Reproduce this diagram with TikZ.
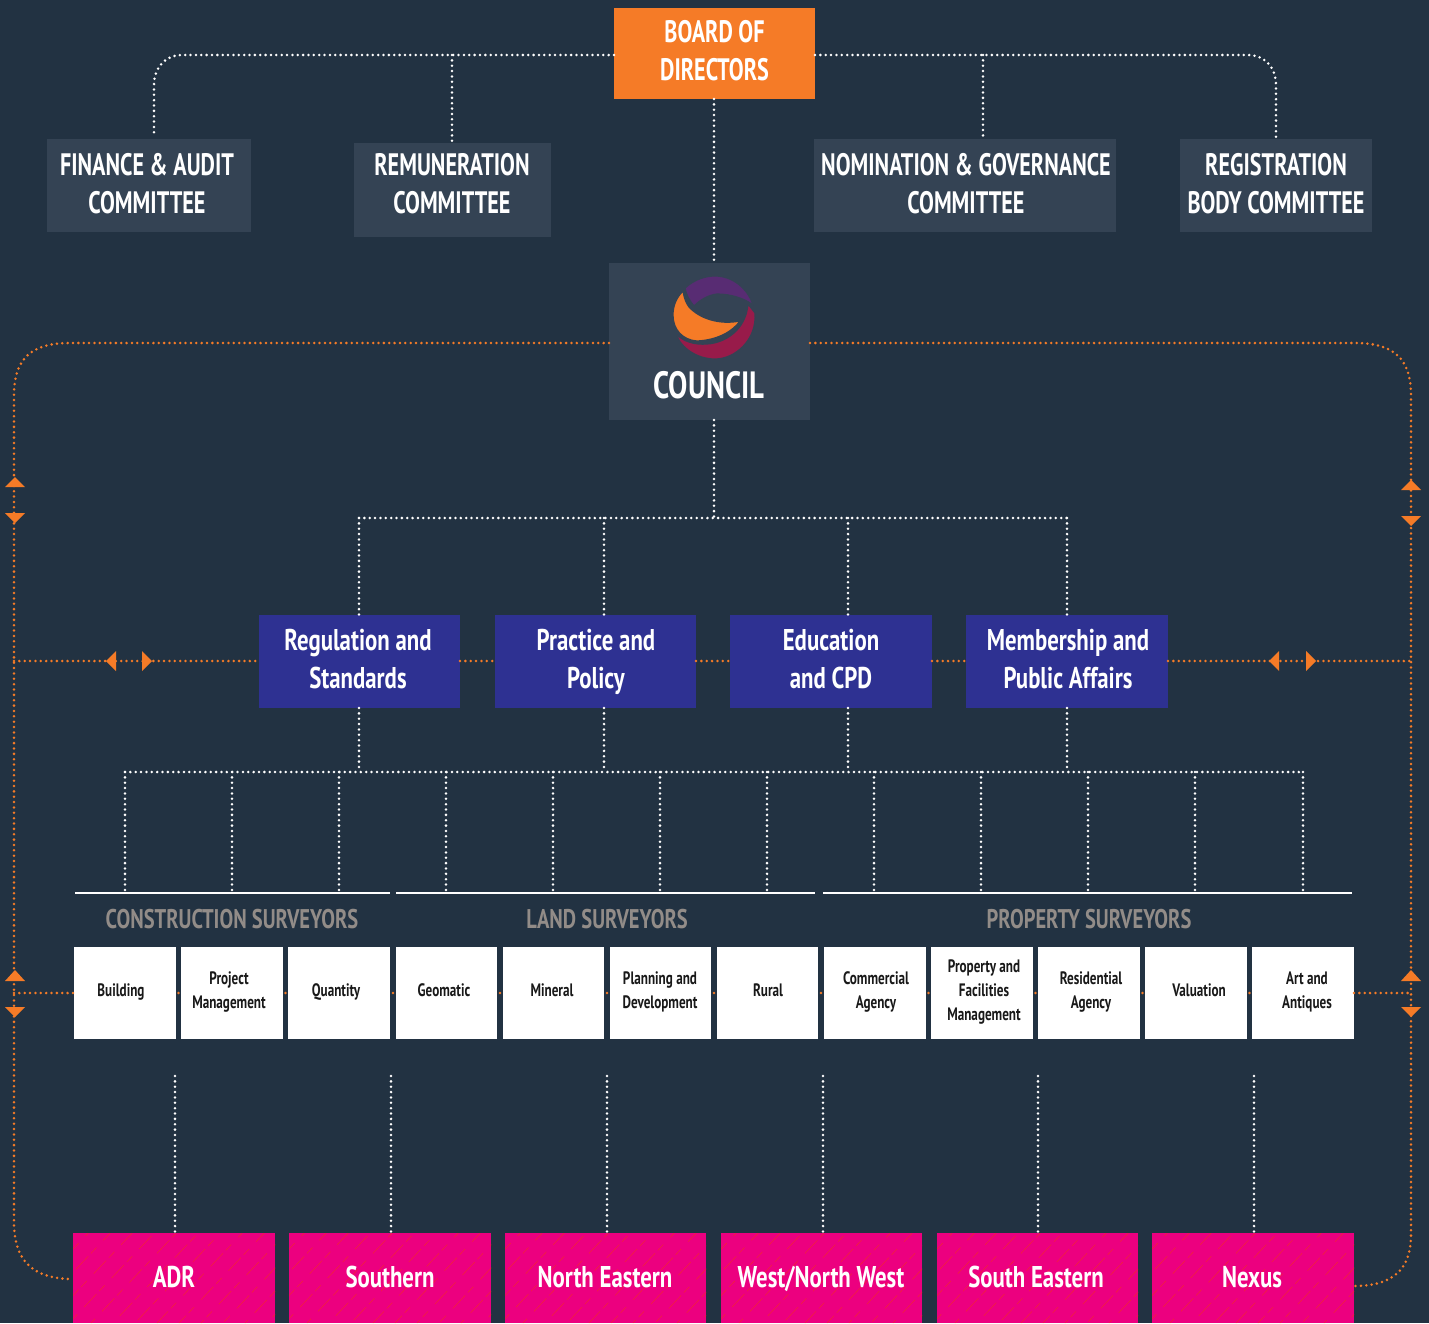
\documentclass[tikz,border=0pt]{standalone}
\usepackage{fontspec}
\setmainfont{PT Sans}
\newfontfamily\fcap{PT Sans Bold}[FakeStretch=0.715]
\newfontfamily\fmid{PT Sans Bold}[FakeStretch=0.76]
\newfontfamily\fsm{PT Sans Bold}[FakeStretch=0.73]
\usetikzlibrary{calc}
\definecolor{bgc}{HTML}{223242}
\definecolor{panel}{HTML}{344354}
\definecolor{orng}{HTML}{F57B27}
\definecolor{navyb}{HTML}{2E3192}
\definecolor{pinkb}{HTML}{EC007F}
\definecolor{hatch}{HTML}{F2203F}
\definecolor{greyt}{HTML}{928C88}
\definecolor{purp}{HTML}{582C73}
\definecolor{crim}{HTML}{981B4A}
\newcommand{\bx}[7]{% name, x0,y0,x1,y1, style, text options
  \node[#6,minimum width={(#4-#2)*0.5pt},minimum height={(#5-#3)*0.5pt}] (#1) at ({(#2+#4)/2},{(#3+#5)/2}) {};}
\tikzset{x=0.5pt,y=-0.5pt,
 box/.style={inner sep=0,outer sep=0,line width=0},
 wdot/.style={draw=white,line width=1.4pt,line cap=round,dash pattern=on 0pt off 2.68pt},
 odot/.style={draw=orng,line width=1.4pt,line cap=round,dash pattern=on 0pt off 2.68pt},
 tri/.style={fill=orng},
 logo/.style={draw=panel,line width=0.6pt},
 txt/.style={inner sep=0,align=center,
   execute at begin node={\rule{0pt}{1em}},
   execute at end node={\rule[-0.3em]{0pt}{0.3em}}},
 big/.style={txt,font=\fcap\fontsize{15.5}{18.8}\selectfont,text=white},
 cou/.style={txt,font=\fmid\fontsize{19}{22}\selectfont,text=white},
 mid/.style={txt,font=\fmid\fontsize{15}{19}\selectfont,text=white},
 lab/.style={txt,font=\fmid\fontsize{13.5}{16}\selectfont,text=greyt},
 sm/.style={txt,font=\fsm\fontsize{9}{12}\selectfont,text=black!90},
 reg/.style={txt,font=\fmid\fontsize{15}{18}\selectfont,text=white},
}
\begin{document}
\begin{tikzpicture}
\useasboundingbox[fill=bgc] (0,0) rectangle (1429,1323);
\coordinate (ol) at (14,661); \coordinate (or) at (1411,661);
\coordinate (wl) at (14,993); \coordinate (wr) at (1411,993);
% boxes
\bx{board}{614}{8}{815}{99}{box,fill=orng}{}
\bx{fin}{47}{139}{251}{232}{box,fill=panel}{}
\bx{rem}{354}{143}{551}{237}{box,fill=panel}{}
\bx{nom}{814}{139}{1116}{232}{box,fill=panel}{}
\bx{regb}{1180}{139}{1372}{232}{box,fill=panel}{}
\bx{council}{609}{263}{810}{420}{box,fill=panel}{}
\bx{m1}{259}{615}{460}{708}{box,fill=navyb}{}
\bx{m2}{495}{615}{696}{708}{box,fill=navyb}{}
\bx{m3}{730}{615}{932}{708}{box,fill=navyb}{}
\bx{m4}{966}{615}{1168}{708}{box,fill=navyb}{}
\foreach \n/\a/\b in {w1/74/176,w2/181/283,w3/288/390,w4/396/497,w5/503/604,w6/610/711,w7/717/818,w8/824/926,w9/931/1033,w10/1038/1140,w11/1145/1247,w12/1252/1354}{
  \bx{\n}{\a}{947}{\b}{1039}{box,fill=white}{}
}
\foreach \n/\a/\b in {p1/73/275,p2/289/491,p3/505/706,p4/721/922,p5/937/1138,p6/1152/1354}{
  \bx{\n}{\a}{1233}{\b}{1323}{box,fill=pinkb}{}
  \begin{scope}
    \clip (\n.south west) rectangle (\n.north east);
    \foreach \k in {0,...,14}{
      \draw[hatch,line width=0.3pt,dash pattern=on 9pt off 2pt on 4pt off 5pt,dash phase=\k*3pt]
        ($(\n.south west)+({\k*22-70},0)$) -- ++(90,-95);
    }
  \end{scope}
}
% white connectors
\draw[wdot] (board.west |- 0,55) -- (182,55) .. controls (165,55) and (154,68) .. (154,85) -- (154,137);
\draw[wdot] (board.east |- 0,55) -- (1248,55) .. controls (1265,55) and (1276,68) .. (1276,85) -- (1276,137);
\coordinate (t1) at (452,55); \coordinate (t2) at (983,55);
\draw[wdot] (t1) -- (rem.north -| t1);
\draw[wdot] (t2) -- (nom.north -| t2);
\draw[wdot] (714,99) -- (714,263);
\coordinate (h0) at (714,518);
\draw[wdot] (714,420) -- (h0);
\draw[wdot] (359,518) -- (1067,518);
\foreach \x/\n in {359/m1,604/m2,848/m3,1067/m4}{
  \draw[wdot] (\x,518) -- (\n.north -| \x,0);
  \draw[wdot] (\n.south -| \x,0) -- (\x,772);
}
\draw[wdot] (125,772) -- (1303,772);
\foreach \x in {125,232,339,446,553,660,767,874,981,1088,1195,1303}{
  \draw[wdot] (\x,772) -- (\x,891);
}
\foreach \x/\n in {175/p1,391/p2,607/p3,823/p4,1038/p5,1254/p6}{
  \draw[wdot] (\x,1076) -- (\n.north -| \x,0);
}
% white rules
\draw[white,line width=1pt] (75,893) -- (390,893);
\draw[white,line width=1pt] (396,893) -- (815,893);
\draw[white,line width=1pt] (823,893) -- (1352,893);
% orange connectors
\draw[odot] (council.west |- 0,343) -- (70,343) .. controls (32,343) and (14,358) .. (14,395) -- (14,1222) .. controls (14,1258) and (30,1279) .. (p1.west |- 0,1279);
\draw[odot] (council.east |- 0,343) -- (1355,343) .. controls (1393,343) and (1411,358) .. (1411,395) -- (1411,1235) .. controls (1411,1270) and (1392,1286) .. (p6.east |- 0,1286);
\draw[odot] (ol) -- (m1.west |- ol);
\draw[odot] (m1.east |- ol) -- (m2.west |- ol);
\draw[odot] (m2.east |- ol) -- (m3.west |- ol);
\draw[odot] (m3.east |- ol) -- (m4.west |- ol);
\draw[odot] (m4.east |- ol) -- (or);
\draw[odot] (wl) -- (w1.west |- wl);
\draw[odot] (w12.east |- wr) -- (wr);
\foreach \a/\b in {w1/w2,w2/w3,w7/w8,w8/w9,w9/w10,w10/w11,w11/w12,w3/w4,w4/w5,w5/w6,w6/w7}{
  \path[fill=orng] ($(\a.east |- wl)!0.5!(\b.west |- wl)$) circle (1.3);
}
% triangles
\foreach \x/\ya/\yb in {15/477/487,15/970/981,1411/480/490,1411/970/981}{
  \fill[tri] (\x,\ya) -- (\x+10,\yb) -- (\x-10,\yb) -- cycle;
}
\foreach \x/\ya/\yb in {15/513/523,15/1007/1017,1411/516/526,1411/1007/1017}{
  \fill[tri] (\x,\yb) -- (\x+10,\ya) -- (\x-10,\ya) -- cycle;
}
\foreach \xa/\xb in {106/116,1269/1279}{
  \fill[tri] (\xa,661) -- (\xb,651) -- (\xb,671) -- cycle;
}
\foreach \xa/\xb in {142/152,1306/1316}{
  \fill[tri] (\xb,661) -- (\xa,651) -- (\xa,671) -- cycle;
}
% logo
\path[logo,fill=purp] (685,288) .. controls (695,279) and (706,276) .. (715,276) .. controls (733,276) and (748,289) .. (753,305)
  .. controls (744,298) and (730,294) .. (717,294) .. controls (708,295) and (700,300) .. (694,306) .. controls (689,300) and (686,294) .. (685,288) -- cycle;
\path[logo,fill=orng] (683,291) .. controls (684,298) and (686,303) .. (689,307) .. controls (700,319) and (720,325) .. (740,321)
  .. controls (733,331) and (718,340) .. (697,341) .. controls (683,340) and (673,330) .. (673,315) .. controls (673,305) and (677,297) .. (683,291) -- cycle;
\path[logo,fill=crim] (748,304) -- (755,313) .. controls (757,340) and (735,359) .. (715,359) .. controls (697,359) and (681,348) .. (676,334)
  .. controls (684,342) and (695,345) .. (707,344) .. controls (725,343) and (746,330) .. (748,304) -- cycle;
% text
\node[big] (board-t) at (714.5,55) {BOARD OF\\DIRECTORS};
\node[big] (fin-t) at (147,188) {FINANCE \& AUDIT\\COMMITTEE};
\node[big] (rem-t) at (452,188) {REMUNERATION\\COMMITTEE};
\node[big] (nom-t) at (966,188) {NOMINATION \& GOVERNANCE\\COMMITTEE};
\node[big] (reg-t) at (1276,188) {REGISTRATION\\BODY COMMITTEE};
\node[cou] (council-t) at (709,385) {COUNCIL};
\node[mid] (m1-t) at (358,663) {Regulation and\\Standards};
\node[mid] (m2-t) at (596,663) {Practice and\\Policy};
\node[mid] (m3-t) at (831,663) {Education\\and CPD};
\node[mid] (m4-t) at (1068,663) {Membership and\\Public Affairs};
\node[lab] (l1) at (232,919) {CONSTRUCTION SURVEYORS};
\node[lab] (l2) at (607,919) {LAND SURVEYORS};
\node[lab] (l3) at (1089,919) {PROPERTY SURVEYORS};
\node[sm] (w1-t) at (121,990) {Building};
\node[sm] (w2-t) at (229,993) {Project\\Management};
\node[sm] (w3-t) at (336,990) {Quantity};
\node[sm] (w4-t) at (444,990) {Geomatic};
\node[sm] (w5-t) at (552,990) {Mineral};
\node[sm] (w6-t) at (660,993) {Planning and\\Development};
\node[sm] (w7-t) at (768,990) {Rural};
\node[sm] (w8-t) at (876,993) {Commercial\\Agency};
\node[sm] (w9-t) at (984,993) {Property and\\Facilities\\Management};
\node[sm] (w10-t) at (1091,993) {Residential\\Agency};
\node[sm] (w11-t) at (1199,990) {Valuation};
\node[sm] (w12-t) at (1307,993) {Art and\\Antiques};
\node[reg] (p1-t) at (174,1277) {ADR};
\node[reg] (p2-t) at (390,1277) {Southern};
\node[reg] (p3-t) at (605,1277) {North Eastern};
\node[reg] (p4-t) at (821,1277) {West/North West};
\node[reg] (p5-t) at (1036,1277) {South Eastern};
\node[reg] (p6-t) at (1252,1277) {Nexus};
\end{tikzpicture}
\end{document}
